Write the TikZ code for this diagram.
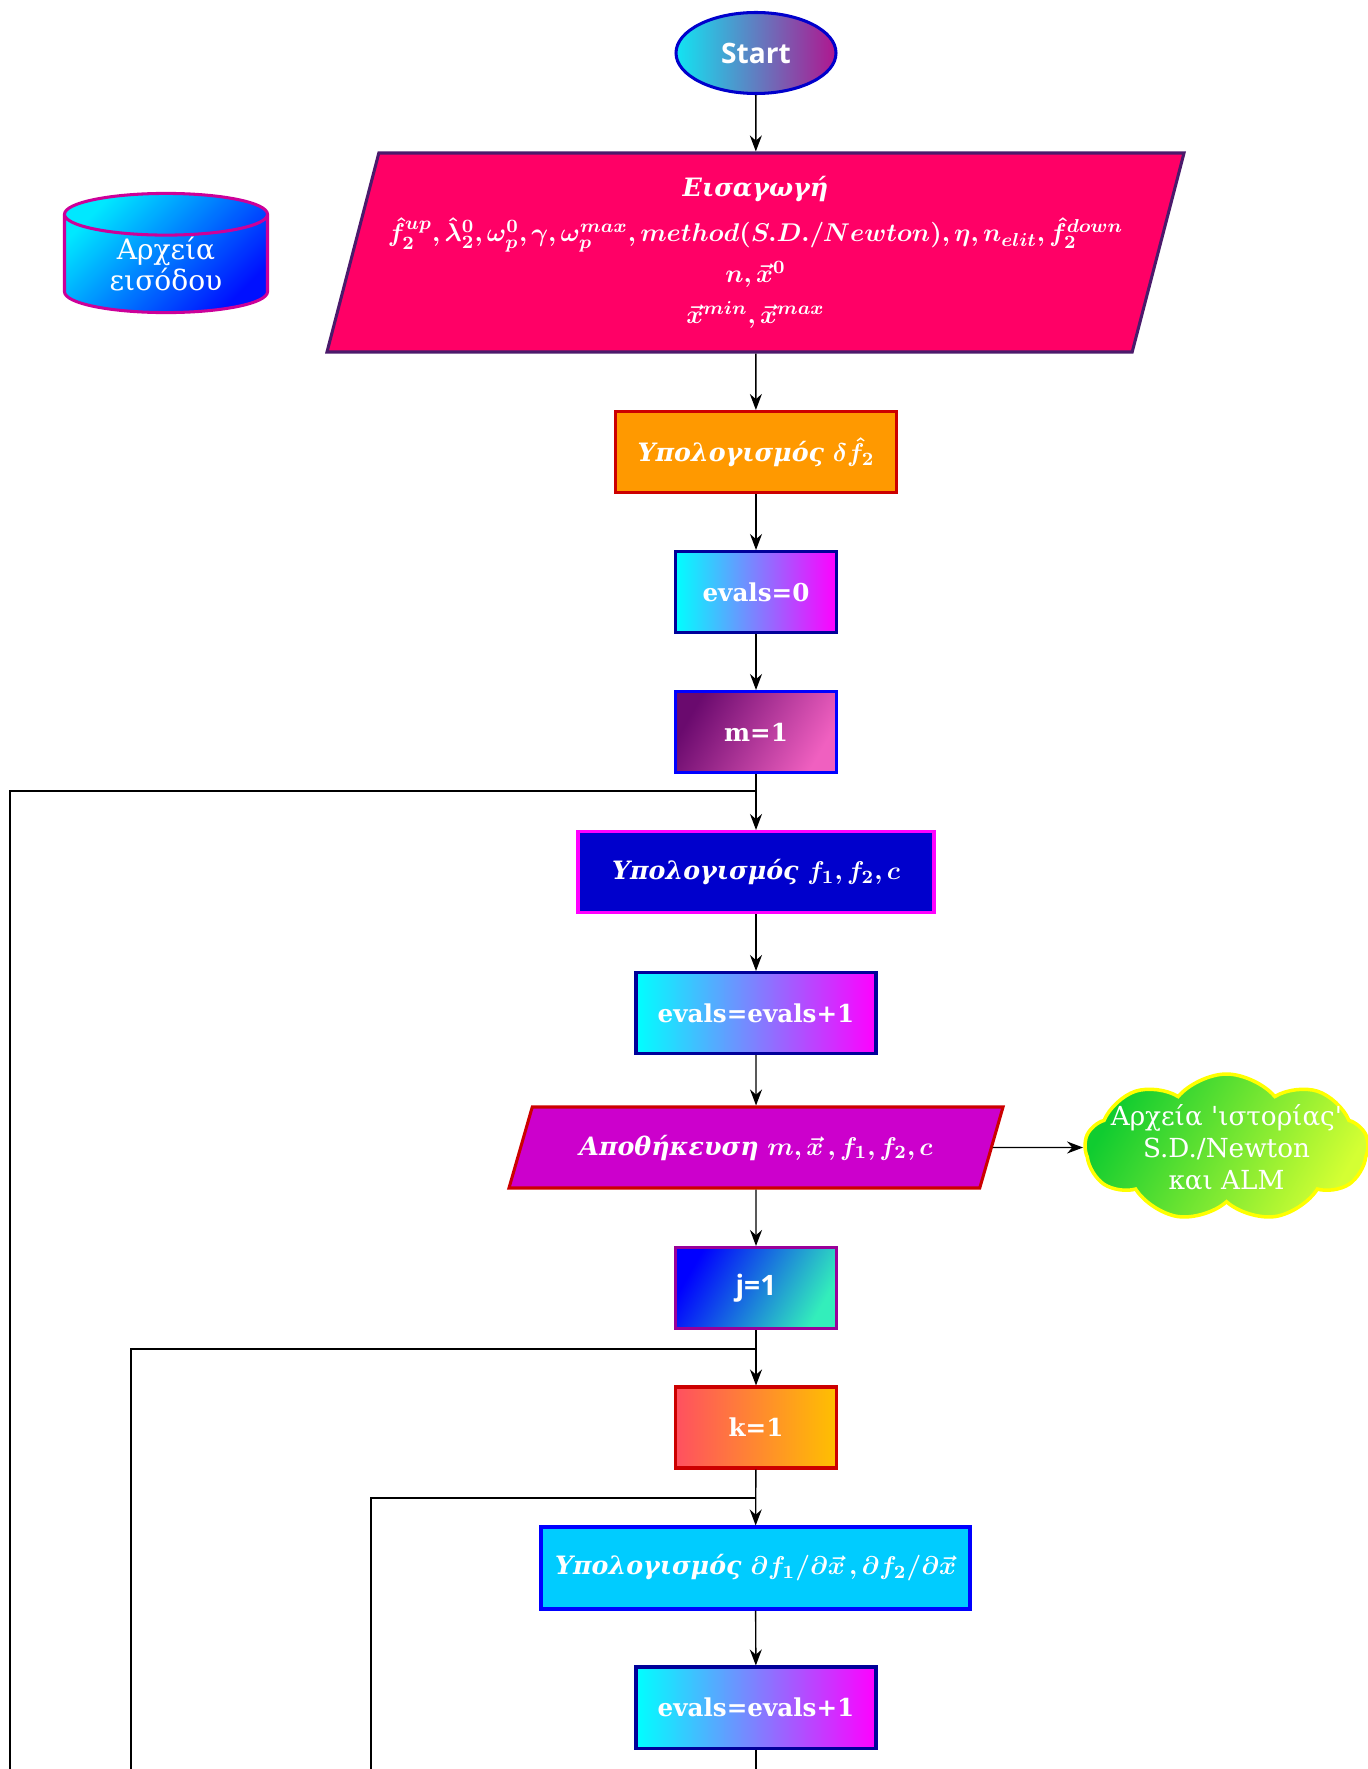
\documentclass[tikz,border=0pt]{standalone}
\usepackage{amsmath}
\usepackage{bm}
\usepackage[no-math]{fontspec}
\setmainfont{DejaVu Serif}
\newfontfamily\startfont{Open Sans}
\usetikzlibrary{arrows.meta,positioning,shapes.geometric,shapes.symbols}
\definecolor{StartBorder}{HTML}{0000CC}
\definecolor{StartLeft}{HTML}{12E4F2}
\definecolor{StartRight}{HTML}{B0168F}
\definecolor{InputFill}{HTML}{FF0066}
\definecolor{InputBorder}{HTML}{4B1A6B}
\definecolor{FileTop}{HTML}{00E8FF}
\definecolor{FileBottom}{HTML}{0010FF}
\definecolor{FileBorder}{HTML}{CC0099}
\definecolor{DeltaFill}{HTML}{FF9900}
\definecolor{RedBorder}{HTML}{CC0000}
\definecolor{EvalLeft}{HTML}{00FFFF}
\definecolor{EvalRight}{HTML}{FF00FF}
\definecolor{NavyBorder}{HTML}{000099}
\definecolor{MLeft}{HTML}{6A0A6E}
\definecolor{MRight}{HTML}{F060C0}
\definecolor{CalcFill}{HTML}{0000CC}
\definecolor{CalcBorder}{HTML}{FF00FF}
\definecolor{StoreFill}{HTML}{CC00CC}
\definecolor{CloudLeft}{HTML}{10CC30}
\definecolor{CloudRight}{HTML}{D4FF33}
\definecolor{CloudBorder}{HTML}{FFFF00}
\definecolor{JLeft}{HTML}{0000FF}
\definecolor{JRight}{HTML}{33EEBB}
\definecolor{JBorder}{HTML}{990099}
\definecolor{KLeft}{HTML}{FF5060}
\definecolor{KRight}{HTML}{FFC000}
\definecolor{GradFill}{HTML}{00CCFF}
\definecolor{GradBorder}{HTML}{0000FF}
\tikzset{
  flowbox/.style={rectangle, line width=1.3pt, text=white, minimum height=1.215cm, inner sep=2pt},
  smallbox/.style={flowbox, minimum width=2.415cm, font=\bfseries\fontsize{10.5}{12}\selectfont},
  evalbox/.style={flowbox, minimum width=3.6cm, draw=NavyBorder, left color=EvalLeft, right color=EvalRight,
    font=\bfseries\fontsize{10.5}{12}\selectfont},
  greektext/.style={font=\fontsize{10.8}{14}\selectfont\bfseries\itshape},
  flow/.style={-{Stealth[length=2.4mm,width=1.8mm]}, line width=0.6pt},
  loopline/.style={line width=0.6pt},
}

\begin{document}
\begin{tikzpicture}[x=0.015cm, y=-0.015cm]
  \useasboundingbox (0,0) rectangle (1368,1769);
  % main column
  \node[ellipse, draw=StartBorder, line width=1.3pt, left color=StartLeft, right color=StartRight,
    minimum width=2.4cm, minimum height=1.215cm, text=white,
    font=\startfont\bfseries\fontsize{12}{14}\selectfont] (start) at (756,53) {Start};
  \node[trapezium, trapezium left angle=72.9, trapezium right angle=107.1, trapezium stretches body,
    minimum width=12.855cm, minimum height=2.985cm, fill=InputFill, draw=InputBorder, line width=1.3pt,
    text=white, align=center, font=\fontsize{10.8}{17.5}\selectfont\bfseries] (input) at (755.5,252.5)
    {{\itshape Εισαγωγή}\\[2pt]
     $\bm{\hat{f}_2^{up},\hat{\lambda}_2^0,\omega_p^0,\gamma,\omega_p^{max},method(S.D./Newton),\eta,n_{elit},\hat{f}_2^{down}}$\\
     $\bm{n,\vec{x}^0}$\\
     $\bm{\vec{x}^{min},\vec{x}^{max}}$};
  \node[flowbox, greektext, minimum width=4.215cm, fill=DeltaFill, draw=RedBorder] (deltaf) at (756,452)
    {Υπολογισμός $\bm{\delta\hat{f}_2}$};
  \node[smallbox, draw=NavyBorder, left color=EvalLeft, right color=EvalRight] (evalszero) at (756,592) {evals=0};
  \node[smallbox, draw=GradBorder, top color=MLeft, bottom color=MRight, shading angle=60] (mone) at (756,732) {m=1};
  \node[flowbox, greektext, minimum width=5.34cm, fill=CalcFill, draw=CalcBorder] (calcf) at (756,872)
    {Υπολογισμός $\bm{f_1,f_2,c}$};
  \node[evalbox] (evalsinc) at (756,1013) {evals=evals+1};
  \node[trapezium, trapezium left angle=60.5, trapezium right angle=119.5, trapezium stretches body,
    minimum width=7.41cm, minimum height=1.215cm, fill=StoreFill, draw=RedBorder, line width=1.3pt,
    text=white, greektext] (store) at (756,1147.5) {Αποθήκευση $\bm{m,\vec{x}\,,f_1,f_2,c}$};
  \node[smallbox, draw=JBorder, top color=JLeft, bottom color=JRight, shading angle=60,
    font=\startfont\bfseries\fontsize{12}{14}\selectfont] (jone) at (756,1288) {j=1};
  \node[smallbox, draw=RedBorder, left color=KLeft, right color=KRight] (kone) at (756,1427.5) {k=1};
  \node[flowbox, greektext, minimum width=6.435cm, minimum height=1.23cm, fill=GradFill, draw=GradBorder]
    (grad) at (755.5,1568) {Υπολογισμός $\bm{\partial f_1/\partial\vec{x}\,,\partial f_2/\partial\vec{x}}$};
  \node[evalbox] (evalsinctwo) at (756,1707.5) {evals=evals+1};
  % files
  \node[cylinder, shape border rotate=90, aspect=0.37, draw=FileBorder, line width=1.3pt,
    top color=FileTop, bottom color=FileBottom, shading angle=45, minimum width=3.045cm,
    minimum height=1.755cm, inner sep=0pt, text=white, align=center, font=\fontsize{12}{13.5}\selectfont,
    anchor=shape center] (infile) at (166,253) {Αρχεία\\εισόδου};
  \node[cloud, cloud puffs=9, cloud puff arc=100, cloud ignores aspect, minimum width=4.245cm,
    minimum height=2.205cm, draw=CloudBorder, line width=1.5pt, top color=CloudLeft,
    bottom color=CloudRight, shading angle=60,
    label={[text=white, align=center, font=\fontsize{11.2}{13.6}\selectfont]center:{Αρχεία \textquotesingle ιστορίας\textquotesingle\\S.D./Newton\\και ALM}}]
    (histfile) at (1226.5,1147.5) {};
  % connectors
  \draw[flow] (start) -- (input);
  \draw[flow] (input) -- (deltaf);
  \draw[flow] (deltaf) -- (evalszero);
  \draw[flow] (evalszero) -- (mone);
  \draw[flow] (mone) -- (calcf);
  \draw[flow] (calcf) -- (evalsinc);
  \draw[flow] (evalsinc) -- (store);
  \draw[flow] (store) -- (histfile);
  \draw[flow] (store) -- (jone);
  \draw[flow] (jone) -- (kone);
  \draw[flow] (kone) -- (grad);
  \draw[flow] (grad) -- (evalsinctwo);
  % loops coming back from below
  \coordinate (mjoin) at (756,791);
  \coordinate (mfoot) at (10,1769);
  \coordinate (jjoin) at (756,1349);
  \coordinate (jfoot) at (131,1769);
  \coordinate (kjoin) at (756,1498);
  \coordinate (kfoot) at (371,1769);
  \coordinate (mainfoot) at (756,1769);
  \draw[loopline] (mfoot) |- (mjoin);
  \draw[loopline] (jfoot) |- (jjoin);
  \draw[loopline] (kfoot) |- (kjoin);
  \draw[loopline] (evalsinctwo) -- (mainfoot);
\end{tikzpicture}
\end{document}
